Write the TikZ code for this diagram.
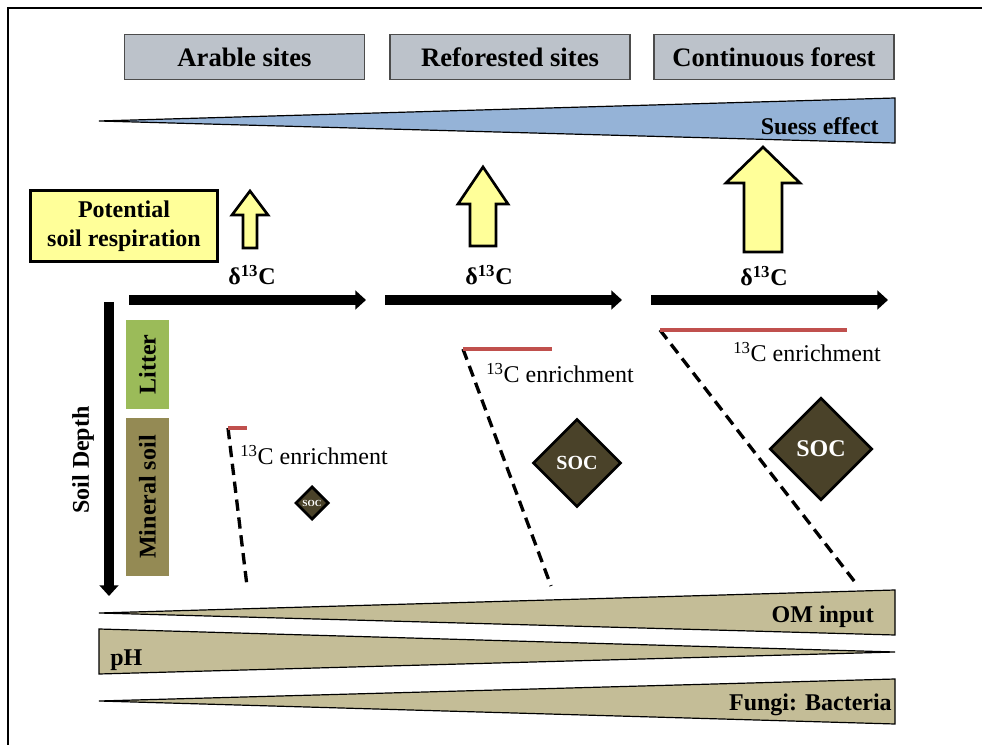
\documentclass[tikz,border=0pt]{standalone}
\usepackage{fontspec}
\setmainfont{Liberation Serif}
\usetikzlibrary{arrows.meta,shapes.geometric}
\definecolor{sitegray}{HTML}{BCC2CA}
\definecolor{suessblue}{HTML}{95B3D7}
\definecolor{respyellow}{HTML}{FFFF99}
\definecolor{littergreen}{HTML}{9BBB59}
\definecolor{mineralbrown}{HTML}{948A54}
\definecolor{wedgetan}{HTML}{C4BD97}
\definecolor{enrichred}{HTML}{C0504D}
\definecolor{socbrown}{HTML}{4A4229}
\newcommand{\fs}[1]{\fontsize{#1}{#1}\selectfont}

\begin{document}
\begin{tikzpicture}[x=0.75pt, y=-0.75pt,
    site/.style={draw=black!70, fill=sitegray, line width=0.8pt, minimum width=180pt, minimum height=34pt, inner sep=0pt, font=\fs{20}\bfseries},
    wedge/.style={draw=black, line width=0.9pt},
    label/.style={font=\fs{18}\bfseries, inner sep=0pt},
    resp/.style={draw=black, fill=respyellow, line width=2pt, line join=miter},
    depth/.style={line width=7.5pt, -{Triangle[width=14pt,length=8pt]}},
    layer/.style={minimum width=32pt, inner sep=0pt, font=\fs{18}\bfseries},
    enrich/.style={enrichred, line width=3.5pt},
    front/.style={line width=2.5pt, dash pattern=on 8.5pt off 5pt},
    note/.style={font=\fs{18}, inner sep=0pt, anchor=west},
    soc/.style={diamond, draw=black, fill=socbrown, line width=2pt, inner sep=0pt, text=white, font=\bfseries}]

    \useasboundingbox (0,0) rectangle (982,745);
    \draw[line width=1.1pt] (8,745) -- (8,8) -- (982,8);

    % land use
    \node[site] (arable) at (244.5,57) {Arable sites};
    \node[site] (refor) at (510,57) {Reforested sites};
    \node[site] (forest) at (774,57) {Continuous forest};

    % Suess effect
    \draw[wedge, fill=suessblue] (99,121) -- (895,98) -- (895,143) -- cycle;
    \node[label, anchor=east] (suess) at (879,126) {Suess effect};

    % respiration
    \node[draw, fill=respyellow, line width=2.2pt, minimum width=140pt, minimum height=53pt, align=center, font=\fontsize{18}{21.5}\selectfont\bfseries] (resp) at (124,226) {Potential\\soil respiration};
    \draw[resp] (250,191) -- (268,215) -- (257,215) -- (257,248) -- (243,248) -- (243,215) -- (232,215) -- cycle;
    \draw[resp] (483,167) -- (508,204) -- (496,204) -- (496,246) -- (470,246) -- (470,204) -- (458,204) -- cycle;
    \draw[resp] (763,147) -- (800,183) -- (782,183) -- (782,252) -- (744,252) -- (744,183) -- (726,183) -- cycle;

    \node[label] (d1) at (252,275) {δ\textsuperscript{13}C};
    \node[label] (d2) at (489,275) {δ\textsuperscript{13}C};
    \node[label] (d3) at (764,276) {δ\textsuperscript{13}C};

    \coordinate (a1) at (129,300); \coordinate (b1) at (366,300);
    \coordinate (a2) at (385,300); \coordinate (b2) at (622,300);
    \coordinate (a3) at (651,300); \coordinate (b3) at (888,300);
    \draw[depth] (a1) -- (b1);
    \draw[depth] (a2) -- (b2);
    \draw[depth] (a3) -- (b3);

    % soil profile
    \coordinate (top) at (109,302); \coordinate (bottom) at (109,596);
    \draw[depth] (top) -- (bottom);
    \node[label, rotate=90] (soil) at (83,460) {Soil Depth};
    \node[layer, fill=littergreen, rotate=90, minimum width=67pt, minimum height=32pt] (litter) at (147.5,364.5) {Litter};
    \node[layer, fill=mineralbrown, rotate=90, minimum width=118.5pt, minimum height=32pt] (mineral) at (147.5,497) {Mineral soil};

    % 13C enrichment
    \coordinate (e1) at (228,428); \coordinate (f1) at (247,428);
    \coordinate (e2) at (463,349); \coordinate (f2) at (552,349);
    \coordinate (e3) at (660,330); \coordinate (f3) at (847,330);
    \coordinate (g1) at (247,586); \coordinate (g2) at (551,586);
    \coordinate (g3) at (858,586);
    \draw[front] (e1) -- (g1);
    \draw[front] (e2) -- (g2);
    \draw[front] (e3) -- (g3);
    \draw[enrich] (e1) -- (f1);
    \draw[enrich] (e2) -- (f2);
    \draw[enrich] (e3) -- (f3);
    \node[note] (n1) at (240,455) {\textsuperscript{13}C enrichment};
    \node[note] (n2) at (486,373) {\textsuperscript{13}C enrichment};
    \node[note] (n3) at (733,352) {\textsuperscript{13}C enrichment};

    % SOC
    \node[soc, minimum size=25pt, font=\fs{7}\bfseries] (soc1) at (312,503) {SOC};
    \node[soc, minimum size=66pt, font=\fs{15}\bfseries] (soc2) at (577,463) {SOC};
    \node[soc, minimum size=77pt, font=\fs{18}\bfseries] (soc3) at (821,449) {SOC};

    % soil properties
    \draw[wedge, fill=wedgetan] (99,613) -- (895,590) -- (895,635) -- cycle;
    \node[label, anchor=east] (om) at (874,617) {OM input};
    \draw[wedge, fill=wedgetan] (99,629) -- (895,652) -- (99,674) -- cycle;
    \node[label, anchor=west] (ph) at (110,660) {pH};
    \draw[wedge, fill=wedgetan] (99,701) -- (895,679) -- (895,724) -- cycle;
    \node[label, anchor=east] (fb) at (892,705) {Fungi: Bacteria};

\end{tikzpicture}
\end{document}
